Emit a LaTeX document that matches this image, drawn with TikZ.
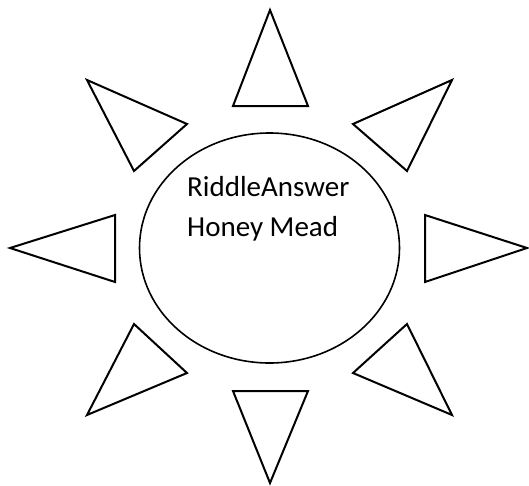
\documentclass[tikz,border=0pt]{standalone}
\usepackage{fontspec}
\setmainfont{Carlito}
\begin{document}
\begin{tikzpicture}[x=1pt,y=-1pt,
  ray/.style={draw=black,line width=2pt,line join=miter},
  sunlabel/.style={anchor=base west,inner sep=0pt,font=\fontsize{29}{34}\selectfont}]
\useasboundingbox (0,0) rectangle (529,485);
% centre
\draw[line width=1.6pt] (269.5,248) ellipse [x radius=130, y radius=115];
\node[sunlabel] (l1) at (187,196) {RiddleAnswer};
\node[sunlabel] (l2) at (187,236) {Honey Mead};
% rays
\draw[ray] (270,10) -- (308,106) -- (233,106) -- cycle;
\draw[ray] (270,483) -- (308,391) -- (233,391) -- cycle;
\draw[ray] (10,248) -- (115,215) -- (115,282) -- cycle;
\draw[ray] (527,248) -- (425,215) -- (425,282) -- cycle;
\draw[ray] (87,80) -- (187,124) -- (134,171) -- cycle;
\draw[ray] (452,80) -- (353,124) -- (407,171) -- cycle;
\draw[ray] (87,415) -- (187,373) -- (134,324) -- cycle;
\draw[ray] (452,415) -- (353,373) -- (407,324) -- cycle;
\end{tikzpicture}
\end{document}
